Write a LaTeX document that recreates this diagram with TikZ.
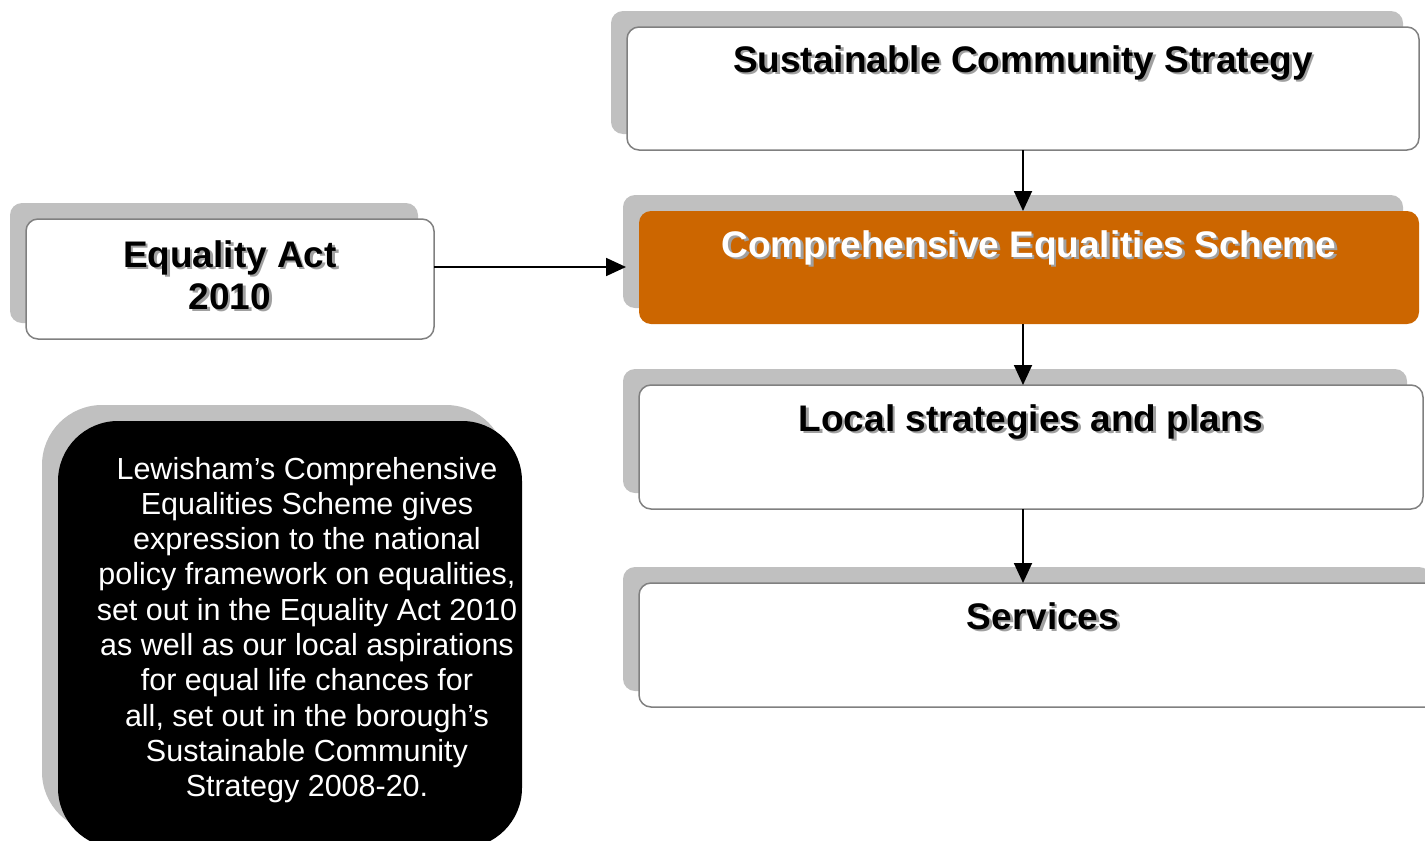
\documentclass[tikz,border=0pt]{standalone}
\usepackage{fontspec}
\setmainfont{Liberation Sans}
\usetikzlibrary{positioning,shadows,arrows.meta}

\definecolor{shadowgray}{HTML}{C0C0C0}
\definecolor{boxline}{HTML}{808080}
\definecolor{cesorange}{HTML}{CC6600}
\definecolor{textshade}{HTML}{A0A0A0}

% bold title with a small grey drop shadow
\newcommand{\shadetext}[1]{\makebox[0pt][l]{\hspace{2.5pt}\raisebox{-2.5pt}{\color{textshade}#1}}#1}

\tikzset{
  titlebox/.style={rounded corners=12pt, draw=boxline, line width=1.5pt, fill=white,
    general shadow={fill=shadowgray, shadow xshift=-16pt, shadow yshift=16pt},
    inner sep=0pt, outer sep=0pt, text height=46pt,
    font=\fontsize{37}{43}\selectfont\bfseries},
  notebox/.style={rounded corners=60pt, fill=black, inner sep=0pt, outer sep=0pt,
    general shadow={fill=shadowgray, shadow xshift=-16pt, shadow yshift=16pt}},
  flow/.style={line width=1.8pt, -{Triangle[length=20pt,width=18pt]}}
}

\begin{document}
\begin{tikzpicture}[x=1pt, y=-1pt]
  \useasboundingbox (0,0) rectangle (1425,841);

  \node[titlebox, minimum width=792pt, text height=45pt, text depth=78pt,
    anchor=north west] (scs) at (627,27) {\shadetext{Sustainable Community Strategy}};
  \node[titlebox, draw=none, fill=cesorange, text=white, minimum width=780pt, text depth=67pt,
    below=61pt of scs.south east, anchor=north east] (ces) {\shadetext{Comprehensive Equalities Scheme}};
  \node[titlebox, minimum width=784pt, text depth=78pt,
    below=61pt of ces.south west, anchor=north west] (lsp) {\shadetext{Local strategies and plans}};
  \node[titlebox, minimum width=808pt, text depth=78pt,
    below=74pt of lsp.south west, anchor=north west] (svc) {\shadetext{Services}};

  \node[titlebox, minimum width=408pt, minimum height=120pt, text height=,
    font=\fontsize{37}{42}\selectfont\bfseries, align=center, anchor=north west]
    (act) at (26,219) {\shadetext{Equality Act}\\\shadetext{2010}\rule[-8pt]{0pt}{8pt}};

  % note box
  \node[notebox, minimum width=464pt, minimum height=427pt, anchor=north west] (note) at (58,421) {};
  \node[text=white, align=center, inner sep=0pt, font=\fontsize{30.5}{35.3}\selectfont]
    (notetext) at (307,630) {Lewisham’s Comprehensive\\Equalities Scheme gives\\expression to the national\\policy framework on equalities,\\set out in the Equality Act 2010\\as well as our local aspirations\\for equal life chances for\\all, set out in the borough’s\\Sustainable Community\\Strategy 2008-20.};

  % Edges
  \draw[flow] (scs.south) -- (scs.south |- ces.north);
  \draw[flow] (scs.south |- ces.south) -- (scs.south |- lsp.north);
  \draw[flow] (scs.south |- lsp.south) -- (scs.south |- svc.north);
  \draw[flow] ([yshift=12pt]act.east) -- ([xshift=-13pt,yshift=12pt]ces.west |- act.east);
\end{tikzpicture}
\end{document}
